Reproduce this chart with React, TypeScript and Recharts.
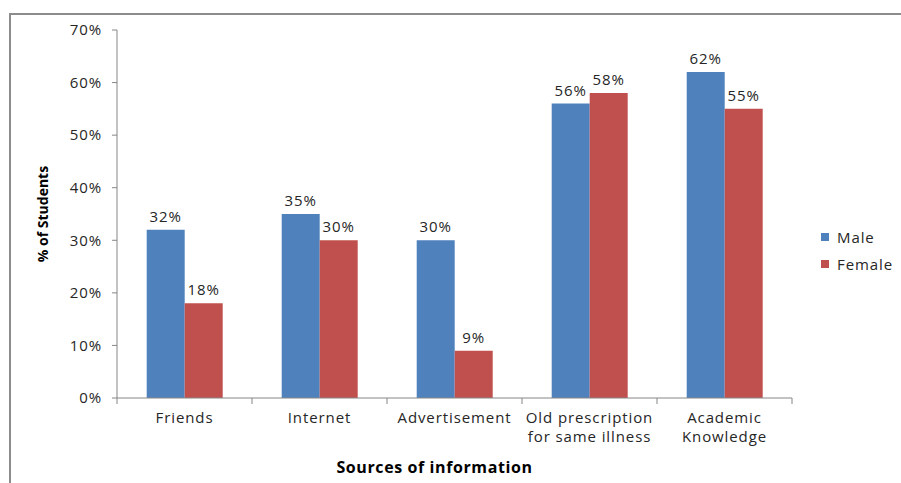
import React from "react";
import { BarChart, Bar, XAxis, YAxis, LabelList } from "recharts";

const categories = [
  "Friends",
  "Internet",
  "Advertisement",
  "Old prescription\nfor same illness",
  "Academic\nKnowledge",
];
const male = [32, 35, 30, 56, 62];
const female = [18, 30, 9, 58, 55];
const yTicks = [0, 10, 20, 30, 40, 50, 60, 70];
const seriesNames = ["Male", "Female"];
const seriesColors = ["#4F81BD", "#C0504D"];

const data = categories.map((name, i) => ({ name, male: male[i], female: female[i] }));

const FONT = "'Open Sans', sans-serif";
const AXIS = "#868686";
const TEXT = "#262626";
const LS = 0.9;

function CategoryTick(props: any) {
  const { x, y, payload, index } = props;
  const half = payload && payload.offset ? payload.offset : 67.5;
  const lines = String(payload.value).split("\n");
  return (
    <g>
      <line x1={x - half} x2={x - half} y1={y - 8} y2={y - 2} stroke={AXIS} />
      {index === categories.length - 1 && (
        <line x1={x + half} x2={x + half} y1={y - 8} y2={y - 2} stroke={AXIS} />
      )}
      <text
        x={x}
        y={y + 17}
        textAnchor="middle"
        fill={TEXT}
        fontSize={15}
        letterSpacing={LS}
        fontFamily={FONT}
      >
        {lines.map((l, i) => (
          <tspan key={i} x={x} dy={i === 0 ? 0 : 19}>
            {l}
          </tspan>
        ))}
      </text>
    </g>
  );
}

function LegendBox() {
  return (
    <div
      style={{
        position: "absolute",
        left: 821,
        top: 223,
        fontFamily: FONT,
        fontSize: 15,
        letterSpacing: LS,
        color: TEXT,
      }}
    >
      {seriesNames.map((label, i) => (
        <div key={label} style={{ display: "flex", alignItems: "center", height: 27 }}>
          <span
            style={{
              display: "inline-block",
              width: 8,
              height: 8,
              background: seriesColors[i],
              marginRight: 8,
            }}
          />
          {label}
        </div>
      ))}
    </div>
  );
}

export default function App() {
  return (
    <div
      style={{
        position: "absolute",
        left: 0,
        top: 0,
        width: 901,
        height: 483,
        overflow: "hidden",
        background: "#fff",
      }}
    >
      <div
        style={{
          position: "absolute",
          left: 9,
          top: 13,
          width: 1000,
          height: 1000,
          border: "2px solid #8c8c8c",
        }}
      />
      <BarChart
        width={901}
        height={483}
        data={data}
        margin={{ top: 30, right: 109, bottom: 35, left: 57 }}
        barCategoryGap="22%"
        barGap={0}
        style={{ position: "absolute", left: 0, top: 0 }}
      >
        <XAxis
          dataKey="name"
          interval={0}
          height={50}
          axisLine={{ stroke: AXIS }}
          tickLine={false}
          tick={<CategoryTick />}
          label={{
            content: (p: any) => {
              const vb = p.viewBox || {};
              const cx = vb.x + vb.width / 2 - 20;
              const cy = vb.y + 69;
              return (
                <text
                  x={cx}
                  y={cy}
                  textAnchor="middle"
                  dominantBaseline="central"
                  fill="#000"
                  fontSize={16}
                  letterSpacing={0.6}
                  fontWeight={700}
                  fontFamily={FONT}
                >
                  Sources of information
                </text>
              );
            },
          }}
        />
        <YAxis
          width={60}
          domain={[0, 70]}
          ticks={yTicks}
          tickFormatter={(v) => `${v}%`}
          axisLine={{ stroke: AXIS }}
          tickLine={{ stroke: AXIS }}
          tickSize={5}
          tickMargin={10}
          tick={{ fill: TEXT, fontSize: 15, fontFamily: FONT, letterSpacing: LS }}
          label={{
            content: (p: any) => {
              const vb = p.viewBox || {};
              const cx = vb.x - 15;
              const cy = vb.y + vb.height / 2;
              return (
                <text
                  x={cx}
                  y={cy}
                  transform={`rotate(-90, ${cx}, ${cy})`}
                  textAnchor="middle"
                  dominantBaseline="central"
                  fill="#000"
                  fontSize={14}
                  fontWeight={700}
                  fontFamily={FONT}
                >
                  % of Students
                </text>
              );
            },
          }}
        />
        <Bar dataKey="male" name="Male" fill={seriesColors[0]} isAnimationActive={false}>
          <LabelList
            dataKey="male"
            position="top"
            offset={8}
            formatter={(v: any) => `${v}%`}
            fill={TEXT}
            fontSize={15}
            letterSpacing={LS}
            fontFamily={FONT}
          />
        </Bar>
        <Bar dataKey="female" name="Female" fill={seriesColors[1]} isAnimationActive={false}>
          <LabelList
            dataKey="female"
            position="top"
            offset={8}
            formatter={(v: any) => `${v}%`}
            fill={TEXT}
            fontSize={15}
            letterSpacing={LS}
            fontFamily={FONT}
          />
        </Bar>
      </BarChart>
      <LegendBox />
    </div>
  );
}
